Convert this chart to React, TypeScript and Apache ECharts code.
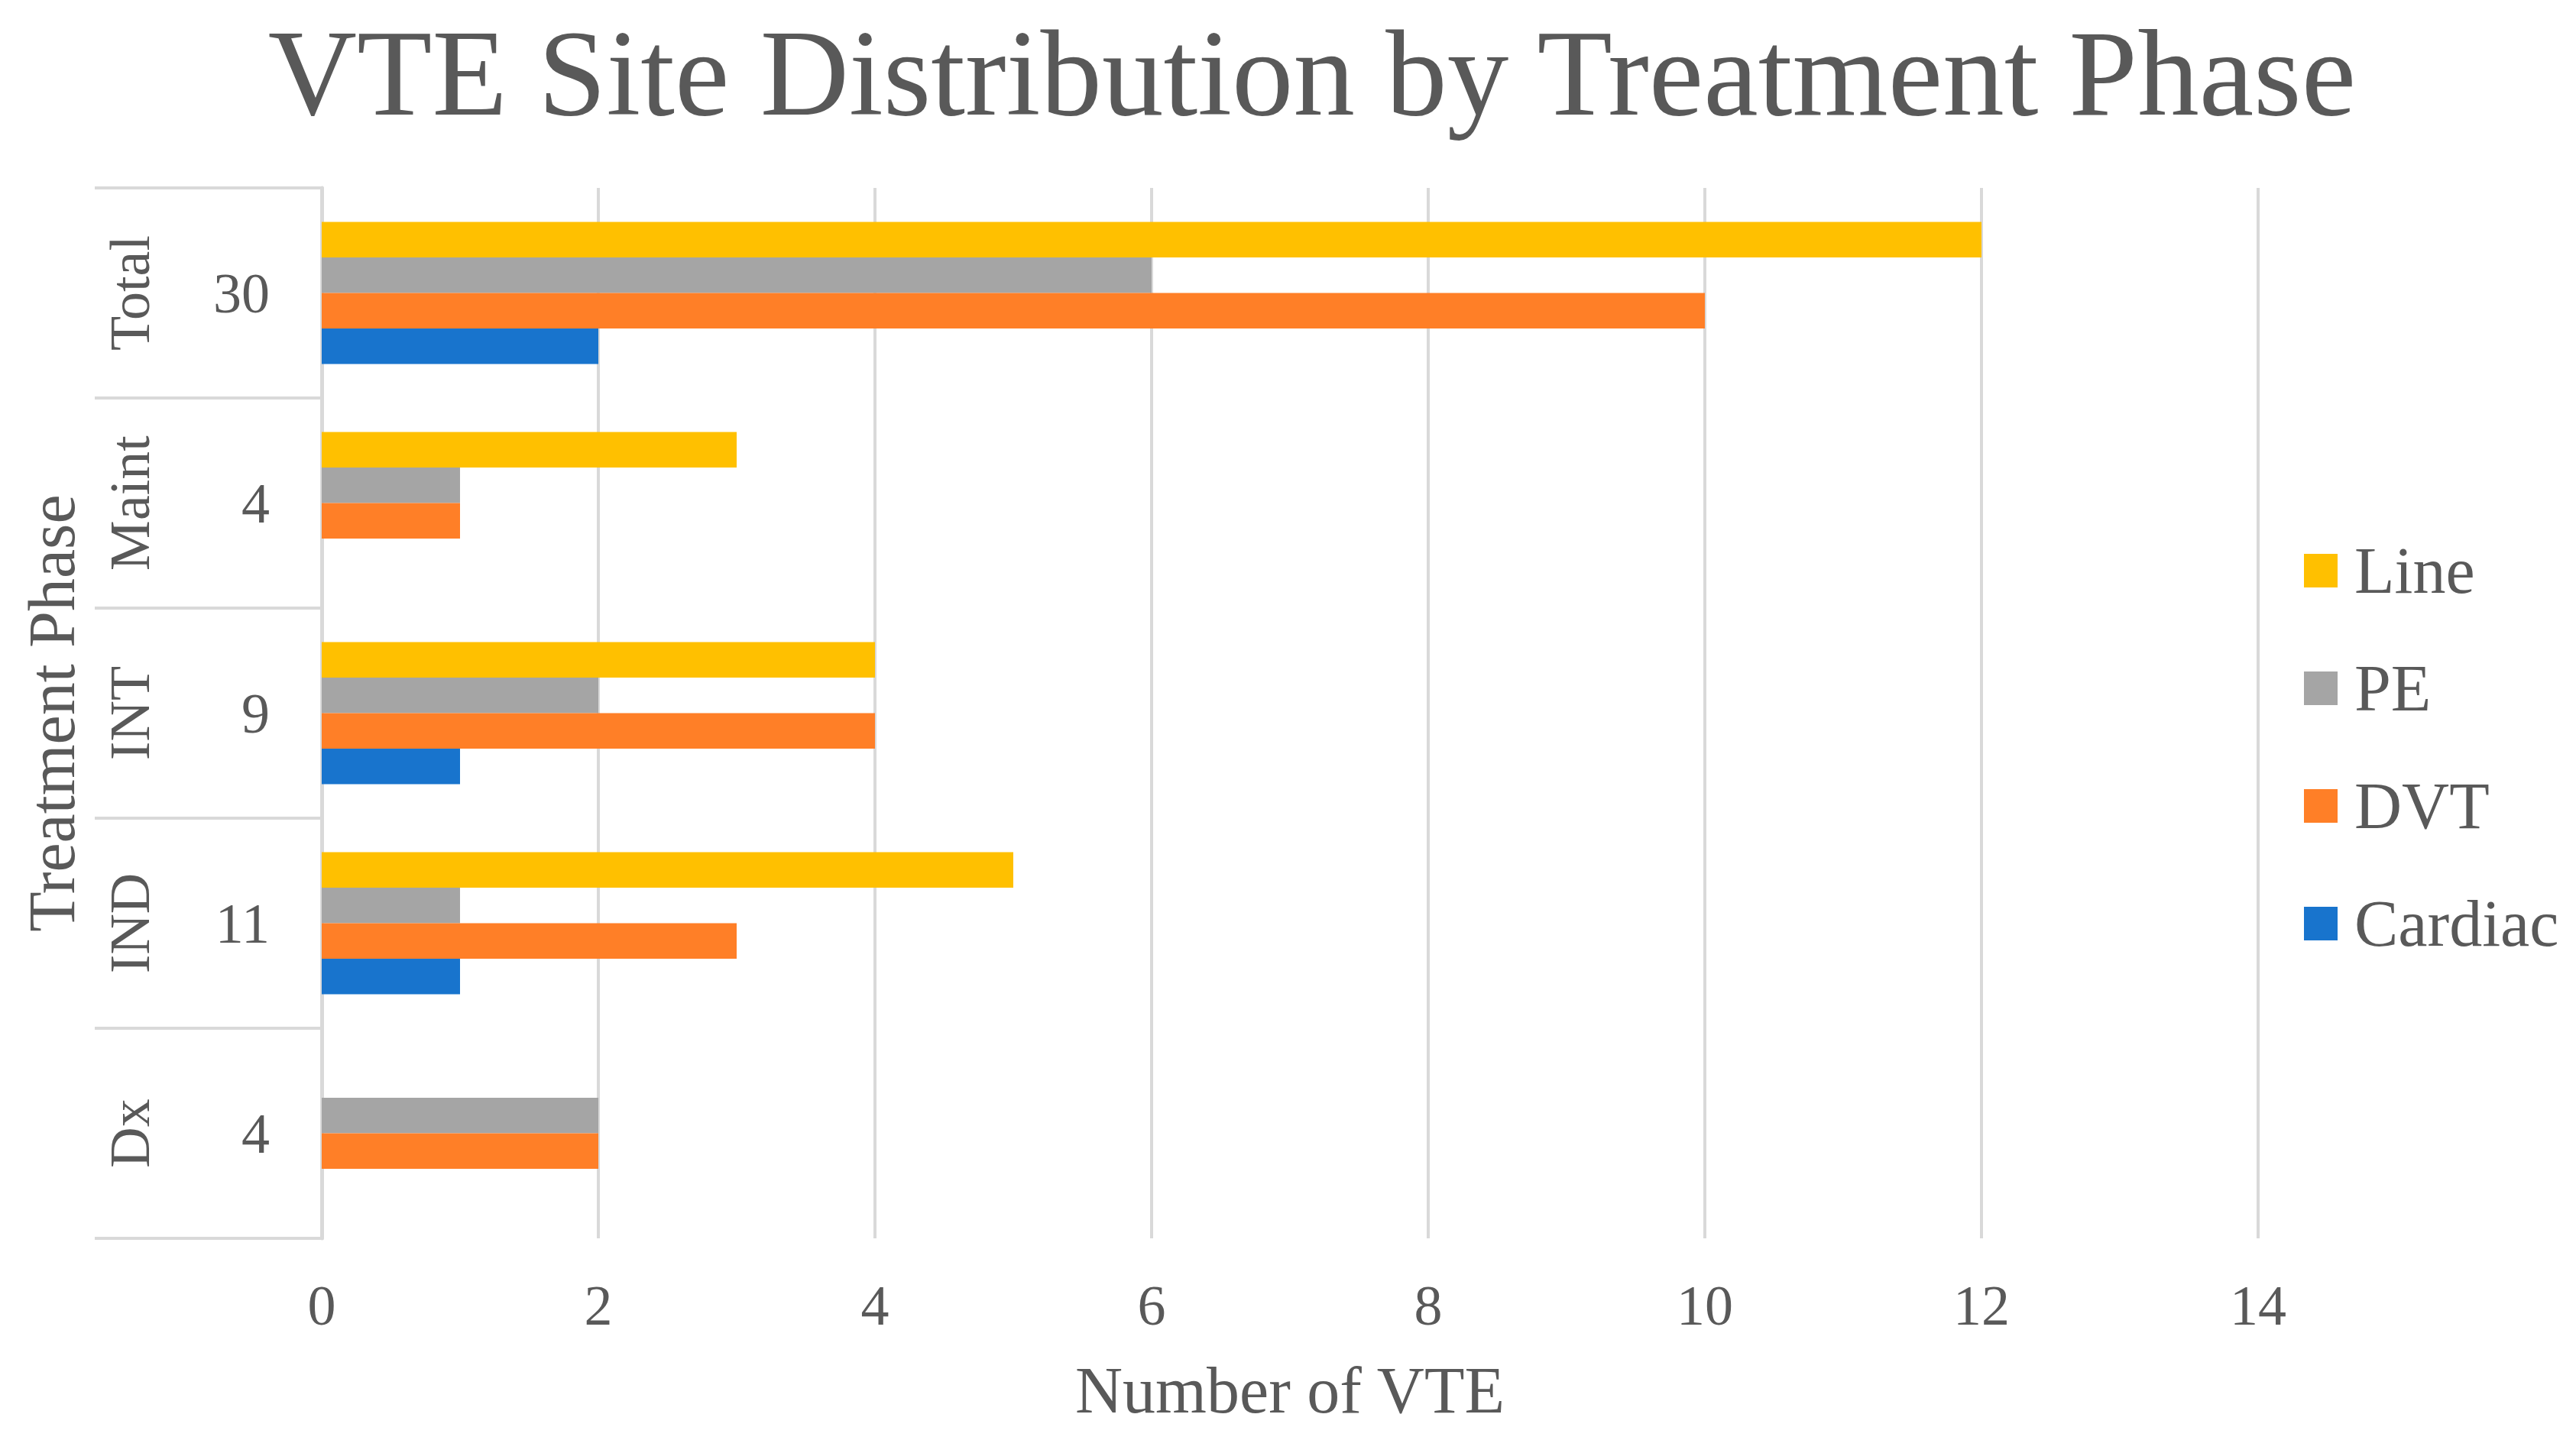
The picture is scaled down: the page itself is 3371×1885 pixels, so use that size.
import React, { useEffect, useRef } from "react";
import * as echarts from "echarts";

const categories = ["Dx", "IND", "INT", "Maint", "Total"];
const counts = ["4", "11", "9", "4", "30"];
const seriesNames = ["Line", "PE", "DVT", "Cardiac"];
const lineValues = [0, 5, 4, 3, 12];
const peValues = [2, 1, 2, 1, 6];
const dvtValues = [2, 3, 4, 1, 10];
const cardiacValues = [0, 1, 1, 0, 2];
const xTicks = [0, 14, 2];
const colors = ["#FFC000", "#A5A5A5", "#FF7F27", "#1874CD"];

const FONT = "'Liberation Serif', 'Times New Roman', serif";
const TEXT = "#595959";
const GRID = "#D9D9D9";

export default function App() {
  const ref = useRef<HTMLDivElement>(null);
  useEffect(() => {
    document.body.style.margin = "0";
    if (!ref.current) return;
    const chart = echarts.init(ref.current, null, { renderer: "svg" });
    const values = [lineValues, peValues, dvtValues, cardiacValues];
    chart.setOption({
      animation: false,
      backgroundColor: "#FFFFFF",
      textStyle: { fontFamily: FONT, color: TEXT },
      title: {
        text: "VTE Site Distribution by Treatment Phase",
        left: 1717,
        top: 15,
        textAlign: "center",
        padding: 0,
        textStyle: { fontFamily: FONT, fontSize: 161, fontWeight: "normal", color: TEXT },
      },
      legend: {
        orient: "vertical",
        left: 3015,
        top: 704,
        padding: 0,
        itemWidth: 44,
        itemHeight: 44,
        itemGap: 68,
        icon: "rect",
        data: seriesNames,
        textStyle: { fontFamily: FONT, fontSize: 86, color: TEXT, padding: [0, 0, 0, 17] },
      },
      grid: { left: 421, right: 416, top: 246, bottom: 264, outerBoundsMode: "none" },
      xAxis: {
        type: "value",
        min: xTicks[0],
        max: xTicks[1],
        interval: xTicks[2],
        axisLine: { show: false },
        axisTick: { show: false },
        splitLine: { show: true, lineStyle: { color: GRID, width: 4 } },
        axisLabel: { fontFamily: FONT, fontSize: 74, color: TEXT, margin: 51 },
        name: "Number of VTE",
        nameLocation: "middle",
        nameGap: 156,
        nameMoveOverlap: false,
        nameTextStyle: { fontFamily: FONT, fontSize: 86, color: TEXT },
      },
      yAxis: [
        {
          type: "category",
          data: categories,
          position: "left",
          axisLine: { show: true, lineStyle: { color: GRID, width: 5 } },
          axisTick: { show: true, length: 297, interval: 0, lineStyle: { color: GRID, width: 4 } },
          axisLabel: {
            interval: 0,
            margin: 68,
            fontFamily: FONT,
            fontSize: 74,
            color: TEXT,
            formatter: (_v: string, i: number) => counts[i],
          },
          name: "Treatment Phase",
          nameLocation: "middle",
          nameRotate: 90,
          nameGap: 310,
          nameMoveOverlap: false,
          nameTextStyle: { fontFamily: FONT, fontSize: 86, color: TEXT },
        },
        {
          type: "category",
          data: categories,
          position: "left",
          offset: 0,
          axisLine: { show: false },
          axisTick: { show: false },
          splitLine: { show: false },
          axisLabel: {
            interval: 0,
            rotate: 90,
            margin: 214,
            fontFamily: FONT,
            fontSize: 74,
            color: TEXT,
          },
        },
      ],
      series: seriesNames.map((name, k) => ({
        name,
        type: "bar",
        yAxisIndex: 0,
        data: values[k],
        barWidth: 46.5,
        barGap: "0%",
        itemStyle: { color: colors[k] },
      })),
    });
    return () => chart.dispose();
  }, []);
  return <div ref={ref} style={{ width: 3371, height: 1885 }} />;
}
